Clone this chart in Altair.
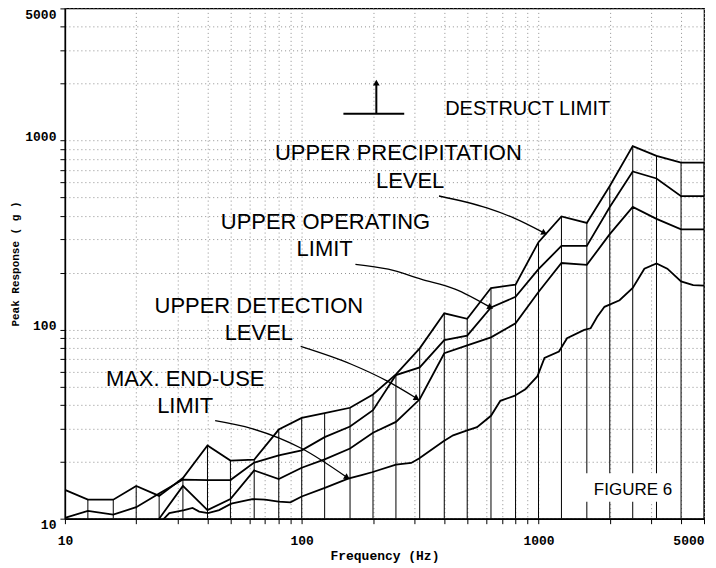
import altair as alt
import pandas as pd

# ---------------- data ----------------
third_octave_hz = [10, 12.5, 16, 20, 25, 31.5, 40, 50, 63, 80, 100, 125, 160, 200, 250, 315,
                   400, 500, 630, 800, 1000, 1250, 1600, 2000, 2500, 3150, 4000, 5000]
upper_precipitation = [14.2, 12.6, 12.6, 14.9, 13.2, 16.4, 24.4, 20.3, 20.5, 29.6, 34.1, 36.2, 38.6, 45.4,
                       58, 79.6, 122, 114, 166, 173, 290, 397, 367, 575, 934, 830, 765, 765]
upper_operating = [10.1, 11.0, 10.5, 11.5, 13.6, 16.1, 16.0, 16.0, 19.8, 21.6, 23.0, 27.0, 30.7, 37.5,
                   57.5, 63.1, 88, 93, 131, 149, 209, 277, 277, 445, 686, 630, 508, 508]
upper_detection = [5, 5.5, 6, 7.5, 10.0, 14.9, 11.1, 12.7, 18.0, 16.2, 18.6, 20.6, 23.5, 28.5,
                   32.5, 42.8, 75, 82.5, 91, 108, 158, 225, 220, 320, 446, 385, 339, 339]
end_use_hz = [20, 25, 27.6, 31.9, 34.6, 36.9, 40.2, 44.8, 50.4, 61.8, 70, 79.9, 89.6, 100, 126, 157,
              179, 198, 250, 290, 313, 397, 436, 500, 550, 630, 690, 790, 880, 990, 1060, 1220, 1320,
              1560, 1660, 1770, 1900, 2200, 2500, 2800, 3150, 3500, 4000, 4500, 5000]
max_end_use = [7, 9.4, 10.7, 11.1, 11.4, 10.9, 10.7, 11.1, 12.0, 12.7, 12.6, 12.3, 12.2, 13.1, 14.6, 16.3,
               17.0, 17.6, 19.3, 19.7, 20.8, 25.7, 27.6, 29.3, 30.5, 35, 42, 44.6, 48.3, 56.7, 70.8, 76.6, 90,
               99.6, 101.6, 117, 132, 143, 166, 210, 224, 210, 180, 172, 171]

# annotation texts (position in data units: Hz, g)
label_text = ["UPPER PRECIPITATION", "LEVEL", "UPPER OPERATING", "LIMIT",
              "UPPER DETECTION", "LEVEL", "MAX. END-USE", "LIMIT"]
label_hz = [256, 287, 126, 125, 65.9, 65.9, 32.2, 32.2]
label_g = [855, 610, 372, 268, 133.6, 96.4, 54.7, 39.5]
destruct_text = ["DESTRUCT LIMIT"]
destruct_hz = [900]
destruct_g = [1471]
figure_text = ["FIGURE 6"]
figure_hz = [2506]
figure_g = [14.2]
figure_box_hz = [1560, 3900]
figure_box_g = [12.3, 17.4]

# leader arrows (data units)
arrow_precip_hz = [380, 605, 785, 1050]
arrow_precip_g = [509, 440, 390, 326]
arrow_oper_hz = [168.6, 232, 319, 444, 622]
arrow_oper_g = [221.6, 208.6, 184.9, 163.9, 131.9]
arrow_detect_hz = [99, 162, 230, 304]
arrow_detect_g = [81.5, 65.6, 53.4, 43.5]
arrow_enduse_hz = [43.1, 61.6, 100, 154.5]
arrow_enduse_g = [33.0, 29.95, 23.5, 16.6]
destruct_bar_hz = [150, 271]
destruct_bar_g = [1384, 1384]
destruct_up_hz = [206.6, 206.6]
destruct_up_g = [1384, 1990]
head_hz = [1050, 622, 304, 154.5, 206.6]
head_g = [326, 131.9, 43.5, 16.6, 2000]
head_angle = [117, 117, 120, 123, 0]

# ---------------- tables ----------------
rows = []
for name, vals in [("Upper precipitation", upper_precipitation),
                   ("Upper operating", upper_operating),
                   ("Upper detection", upper_detection)]:
    for i, (f, v) in enumerate(zip(third_octave_hz, vals)):
        rows.append({"series": name, "hz": f, "g": v, "i": i})
for i, (f, v) in enumerate(zip(end_use_hz, max_end_use)):
    rows.append({"series": "Max end-use", "hz": f, "g": v, "i": i})
curves = pd.DataFrame(rows)

rules = pd.DataFrame({
    "hz": third_octave_hz,
    "lo": [10] * len(third_octave_hz),
    "hi": [max(a, b, c) for a, b, c in zip(upper_precipitation, upper_operating, upper_detection)],
})

arows = []
for k, (xs, ys) in enumerate([(arrow_precip_hz, arrow_precip_g), (arrow_oper_hz, arrow_oper_g),
                              (arrow_detect_hz, arrow_detect_g), (arrow_enduse_hz, arrow_enduse_g)]):
    for i, (f, v) in enumerate(zip(xs, ys)):
        arows.append({"a": k, "hz": f, "g": v, "i": i})
arrows = pd.DataFrame(arows)

srows = []
for k, (xs, ys) in enumerate([(destruct_bar_hz, destruct_bar_g), (destruct_up_hz, destruct_up_g)]):
    for i, (f, v) in enumerate(zip(xs, ys)):
        srows.append({"s": k, "hz": f, "g": v, "i": i})
symbol = pd.DataFrame(srows)

heads = pd.DataFrame({"hz": head_hz, "g": head_g, "ang": head_angle})
labels = pd.DataFrame({"hz": label_hz, "g": label_g, "t": label_text})
dlab = pd.DataFrame({"hz": destruct_hz, "g": destruct_g, "t": destruct_text})
figlab = pd.DataFrame({"hz": figure_hz, "g": figure_g, "t": figure_text})
figbox = pd.DataFrame({"hz1": [figure_box_hz[0]], "hz2": [figure_box_hz[1]],
                       "g1": [figure_box_g[0]], "g2": [figure_box_g[1]]})

# ---------------- scales / axes ----------------
xticks = [10, 20, 30, 40, 50, 60, 70, 80, 90, 100, 200, 300, 400, 500, 600, 700, 800, 900,
          1000, 2000, 3000, 4000, 5000]
yticks = xticks
major = "(datum.value == 10 || datum.value == 100 || datum.value == 1000 || datum.value == 5000)"

xscale = alt.Scale(type="log", domain=[10, 5000], nice=False)
yscale = alt.Scale(type="log", domain=[10, 5000], nice=False)

mono = "Liberation Mono"
xaxis = alt.Axis(values=xticks, format="d", labelExpr=major + " ? datum.label : ''",
                 title="Frequency (Hz)", titleFont=mono, titleFontSize=13, titleFontWeight="bold",
                 titleColor="black", titlePadding=2,
                 labelFont=mono, labelFontSize=13, labelFontWeight="bold", labelColor="black",
                 labelFlush=False, labelPadding=11,
                 labelAlign={"condition": {"test": "datum.value == 5000", "value": "right"}, "value": "center"},
                 tickSize=5, tickColor="black", domainColor="black", domainWidth=1.5,
                 grid=True, gridColor="#8f8f8f", gridDash=[1, 3], gridWidth=1)
yaxis = alt.Axis(values=yticks, format="d", labelExpr=major + " ? datum.label : ''",
                 title="Peak Response ( g )", titleFont=mono, titleFontSize=11, titleFontWeight="bold",
                 titleColor="black", titlePadding=4,
                 labelFont=mono, labelFontSize=13, labelFontWeight="bold", labelColor="black",
                 labelFlush=False, labelPadding=4,
                 labelBaseline={"condition": {"test": "datum.value == 10 || datum.value == 5000", "value": "top"},
                                "value": "alphabetic"},
                 tickSize=5, tickColor="black", domainColor="black", domainWidth=1.5,
                 grid=True, gridColor="#8f8f8f", gridDash=[1, 3], gridWidth=1)


def X(field):
    return alt.X(field, type="quantitative", scale=xscale, axis=xaxis)


def Y(field):
    return alt.Y(field, type="quantitative", scale=yscale, axis=yaxis)


# ---------------- layers ----------------
rule_layer = alt.Chart(rules).mark_rule(color="black", strokeWidth=1, clip=True).encode(
    x=X("hz"), y=Y("lo"), y2="hi")

box_layer = alt.Chart(figbox).mark_rect(color="white").encode(
    x=X("hz1"), x2="hz2", y=Y("g1"), y2="g2")

curve_layer = alt.Chart(curves).mark_line(color="black", strokeWidth=1.8, clip=True).encode(
    x=X("hz"), y=Y("g"), detail="series:N", order="i:Q")

arrow_layer = alt.Chart(arrows).mark_line(color="black", strokeWidth=1.3, interpolate="monotone").encode(
    x=X("hz"), y=Y("g"), detail="a:N", order="i:Q")

symbol_layer = alt.Chart(symbol).mark_line(color="black", strokeWidth=2).encode(
    x=X("hz"), y=Y("g"), detail="s:N", order="i:Q")

head_layer = alt.Chart(heads).mark_point(shape="triangle", filled=True, color="black", size=45,
                                         opacity=1).encode(
    x=X("hz"), y=Y("g"), angle=alt.Angle("ang:Q", scale=None))

text_layer = alt.Chart(labels).mark_text(font="Liberation Sans", fontSize=22, color="black",
                                         align="center", baseline="middle").encode(
    x=X("hz"), y=Y("g"), text="t:N")

dtext_layer = alt.Chart(dlab).mark_text(font="Liberation Sans", fontSize=20, color="black",
                                        align="center", baseline="middle").encode(
    x=X("hz"), y=Y("g"), text="t:N")

fig_layer = alt.Chart(figlab).mark_text(font="Liberation Sans", fontSize=17, color="black",
                                        align="center", baseline="middle").encode(
    x=X("hz"), y=Y("g"), text="t:N")

chart = alt.layer(rule_layer, box_layer, curve_layer, arrow_layer, symbol_layer, head_layer,
                  text_layer, dtext_layer, fig_layer).properties(
    width=640, height=511,
    autosize=alt.AutoSizeParams(type="none"),
    padding={"left": 57, "top": 0, "right": 4, "bottom": 49},
).configure_view(stroke="black", strokeWidth=1.2)

chart.save("out.html", embed_options={"renderer": "svg", "actions": False})
